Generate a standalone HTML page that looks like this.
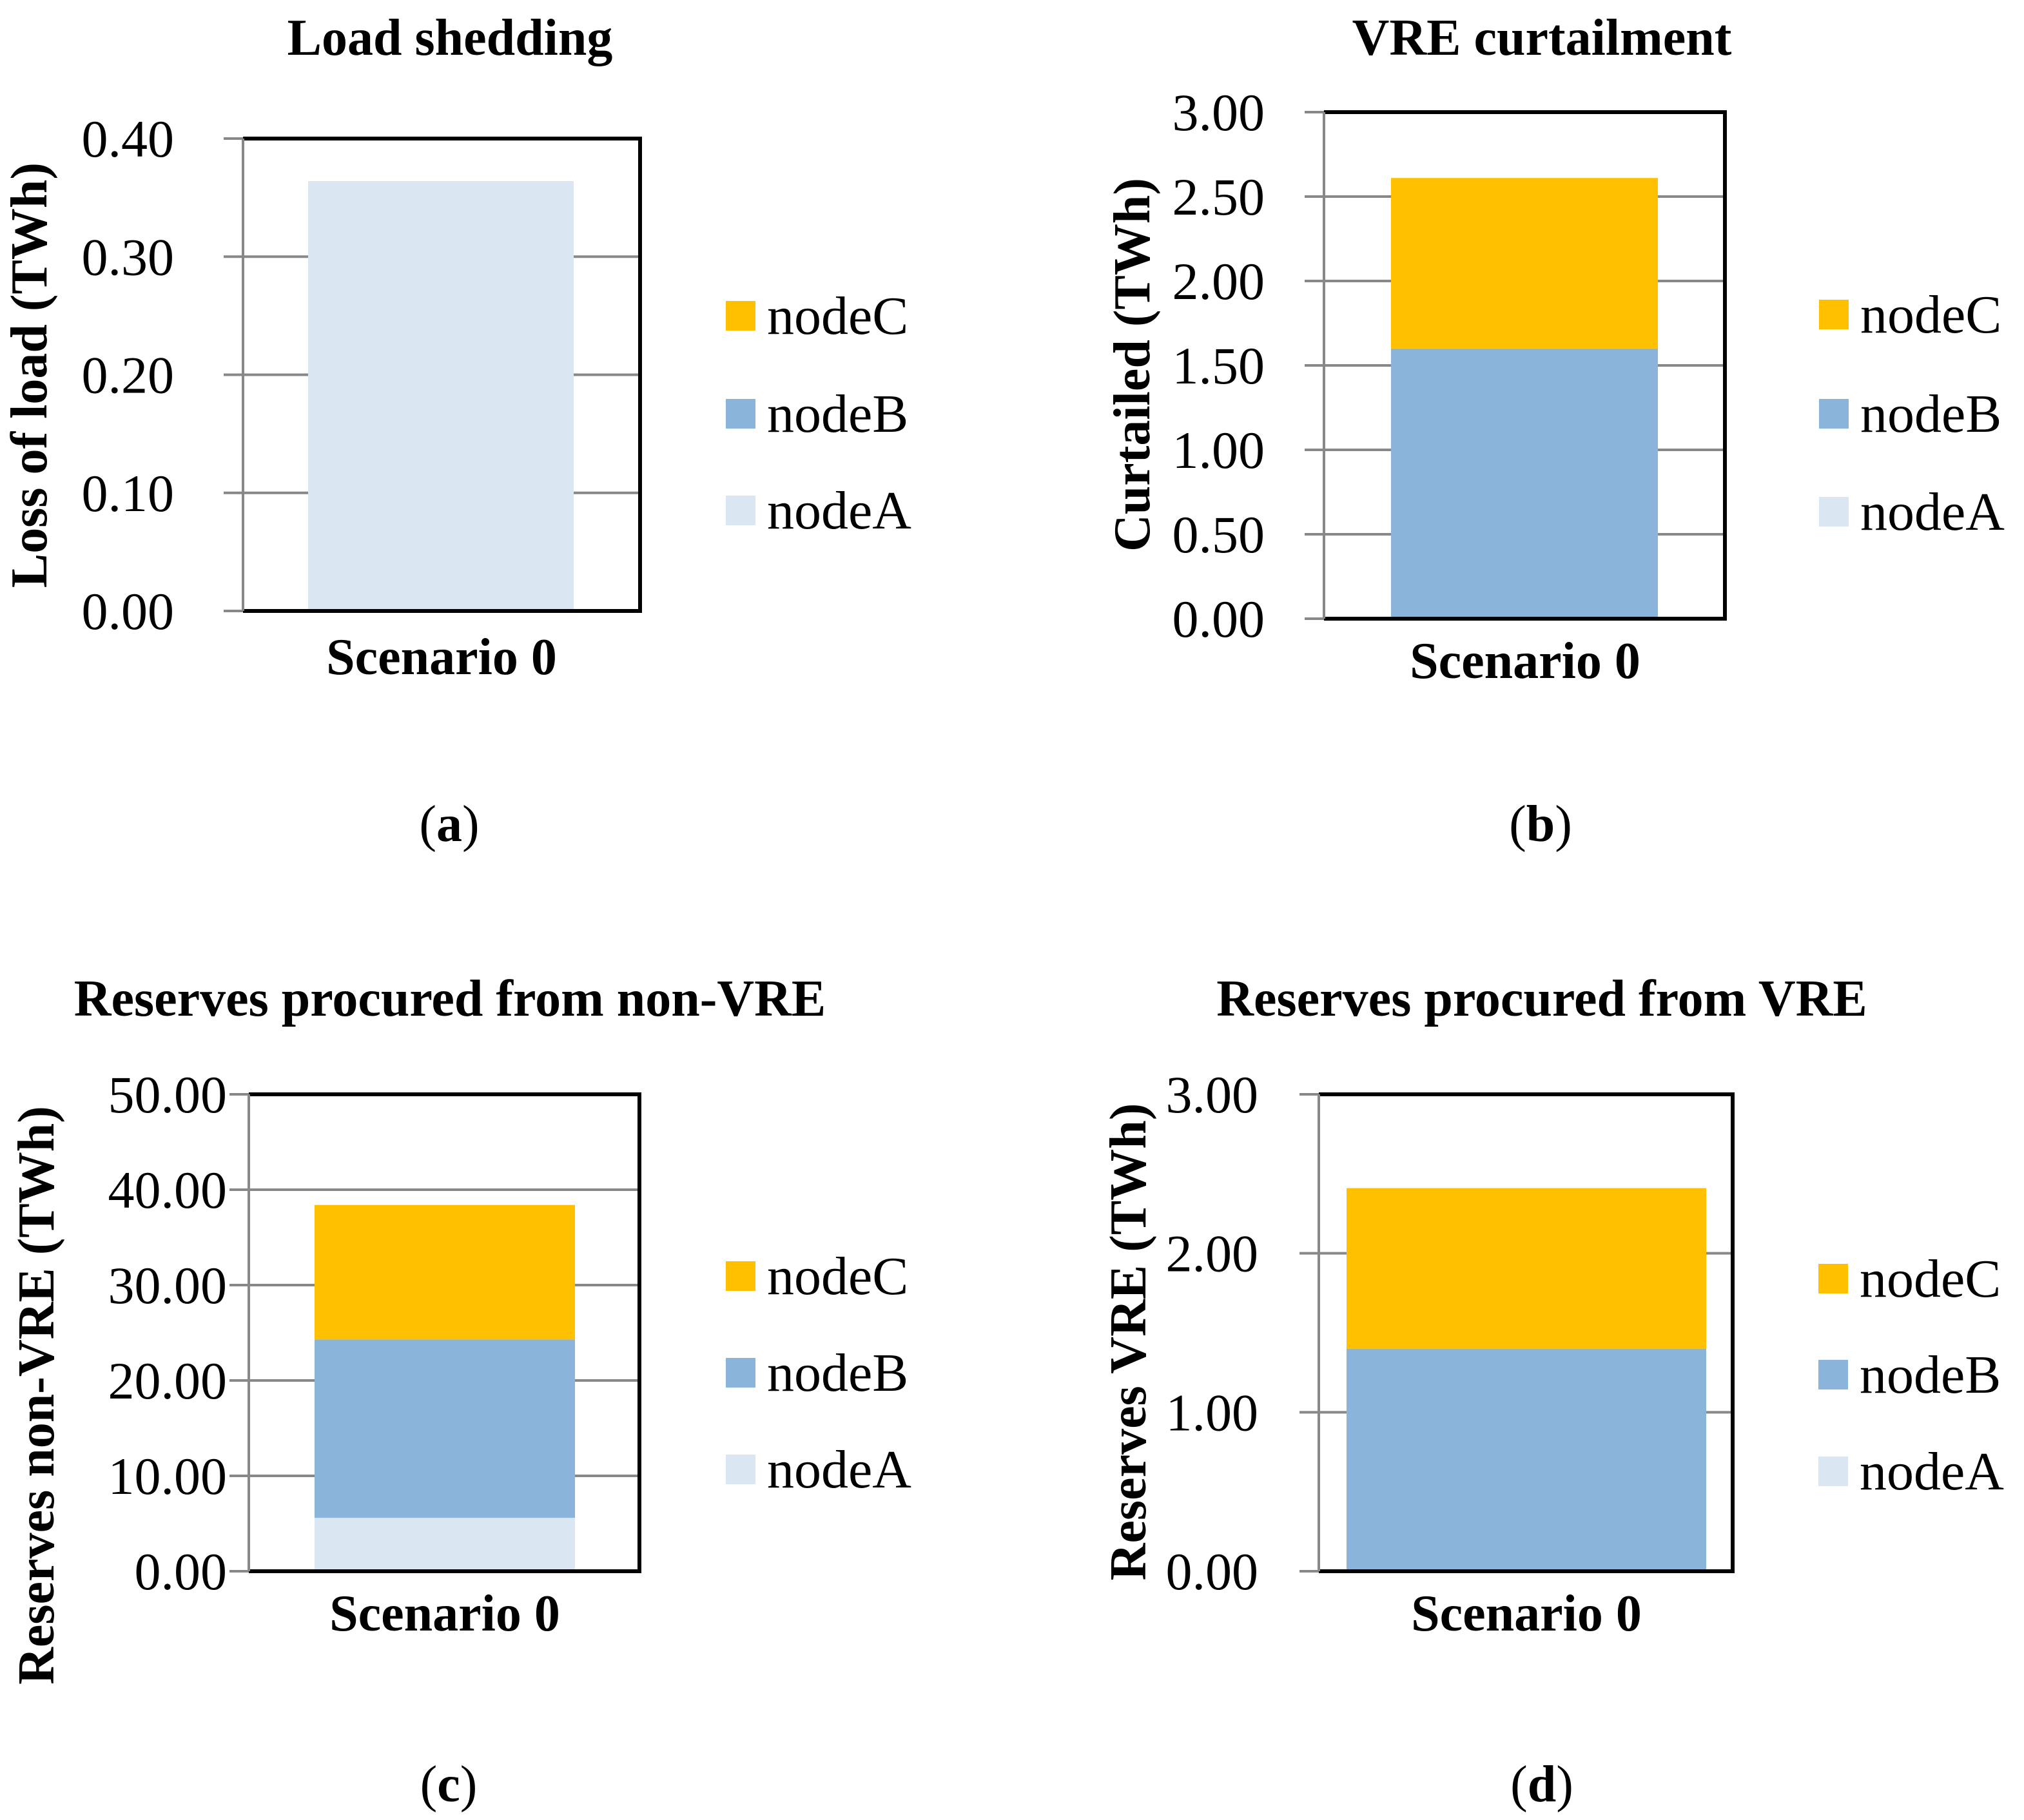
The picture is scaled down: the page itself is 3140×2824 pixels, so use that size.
<!DOCTYPE html>
<html><head><meta charset="utf-8"><style>
html,body{margin:0;padding:0;background:#fff;}
svg{display:block;}
text{font-family:"Liberation Serif",serif;fill:#000;}
</style></head><body>
<svg id="fig" width="3140" height="2824" viewBox="0 0 3140 2824" xmlns="http://www.w3.org/2000/svg"></svg>
<script>
const seriesNames = ["nodeA","nodeB","nodeC"];
const seriesColors = ["#DAE7F2","#8AB4D9","#FFC000"];
const categories = ["Scenario 0"];
const loadValues = [0.364, 0, 0];
const curtailValues = [0, 1.60, 1.01];
const nonVreValues = [5.6, 18.7, 14.1];
const vreValues = [0, 1.40, 1.01];
const loadTicks = [0,0.1,0.2,0.3,0.4];
const curtailTicks = [0,0.5,1,1.5,2,2.5,3];
const nonVreTicks = [0,10,20,30,40,50];
const vreTicks = [0,1,2,3];

const NS="http://www.w3.org/2000/svg";
const svg=document.getElementById('fig');
function mk(tag,attrs,parent){const e=document.createElementNS(NS,tag);for(const k in attrs)e.setAttribute(k,attrs[k]);(parent||svg).appendChild(e);return e;}

function panel(p){
  const g=mk('g',{});
  
  
  const max=p.ticks[p.ticks.length-1];
  const y=v=>p.y1-(v/max)*(p.y1-p.y0);
  p.ticks.forEach((t,i)=>{
    const l=mk('line',{x1:p.x0-30,x2:p.x1,y1:y(t),y2:y(t),stroke:'#888',"stroke-width":4},g);
    
    
    const tx=mk('text',{x:p.tickX,y:y(t)+28,"font-size":82,"text-anchor":"end"},g);
    tx.textContent=p.labels[i];
    
    
  });
  let acc=0;
  p.values.forEach((v,i)=>{
    if(v>0){
      const r=mk('rect',{x:p.bx0,width:p.bx1-p.bx0,y:y(acc+v),height:y(acc)-y(acc+v),fill:seriesColors[i]},g);
      
      
    }
    acc+=v;
  });
  const fr=mk('path',{d:`M${p.x0} ${p.y0} H${p.x1} V${p.y1} H${p.x0}`,fill:'none',stroke:'#000',"stroke-width":6},g);
  
  
  const ax=mk('line',{x1:p.x0,x2:p.x0,y1:p.y0,y2:p.y1,stroke:'#888',"stroke-width":4},g);
  
  
  const t=mk('text',{x:p.titleX,y:p.titleY,"font-size":80,"font-weight":"bold","text-anchor":"middle"},g);
  t.textContent=p.title;
  
  
  const yt=mk('text',{x:0,y:0,"font-size":80,"font-weight":"bold","text-anchor":"middle",transform:`translate(${p.ytX+27},${p.ytY}) rotate(-90)`},g);
  yt.textContent=p.ytitle;
  
  
  const xl=mk('text',{x:p.catX,y:p.catY,"font-size":80,"font-weight":"bold","text-anchor":"middle"},g);
  xl.textContent=categories[0];
  
  
  const cap=mk('text',{x:p.capX,y:p.capY,"font-size":80,"text-anchor":"middle"},g);
  cap.innerHTML='(<tspan font-weight="bold">'+p.cap+'</tspan>)';
  
  
  [2,1,0].forEach((si,k)=>{
    const cy=p.legY[k];
    const r=mk('rect',{x:p.legX,y:cy-23,width:46,height:46,fill:seriesColors[si]},g);
    
    
    const lt=mk('text',{x:p.legX+64,y:cy+28,"font-size":84},g);
    lt.textContent=seriesNames[si];
    
    
  });
}

panel({id:'chart-load-shedding',title:'Load shedding',ytitle:'Loss of load (TWh)',cap:'a',values:loadValues,ticks:loadTicks,labels:['0.00','0.10','0.20','0.30','0.40'],
  x0:377,x1:993,y0:215,y1:948,bx0:478,bx1:890,tickX:270,titleX:698,titleY:85,ytX:45,ytY:582,catX:685,catY:1046,capX:697,capY:1305,legX:1126,legY:[490,642,792]});
panel({id:'chart-vre-curtailment',title:'VRE curtailment',ytitle:'Curtailed (TWh)',cap:'b',values:curtailValues,ticks:curtailTicks,labels:['0.00','0.50','1.00','1.50','2.00','2.50','3.00'],
  x0:2054,x1:2676,y0:174,y1:960,bx0:2158,bx1:2572,tickX:1962,titleX:2392,titleY:85,ytX:1756,ytY:566,catX:2366,catY:1052,capX:2390,capY:1305,legX:2822,legY:[488,642,794]});
panel({id:'chart-reserves-non-vre',title:'Reserves procured from non-VRE',ytitle:'Reserves non-VRE (TWh)',cap:'c',values:nonVreValues,ticks:nonVreTicks,labels:['0.00','10.00','20.00','30.00','40.00','50.00'],
  x0:386,x1:992,y0:1698,y1:2438,bx0:488,bx1:892,tickX:352,titleX:698,titleY:1576,ytX:56,ytY:2165,catX:690,catY:2530,capX:696,capY:2795,legX:1126,legY:[1980,2130,2280]});
panel({id:'chart-reserves-vre',title:'Reserves procured from VRE',ytitle:'Reserves VRE (TWh)',cap:'d',values:vreValues,ticks:vreTicks,labels:['0.00','1.00','2.00','3.00'],
  x0:2046,x1:2688,y0:1698,y1:2438,bx0:2089,bx1:2647,tickX:1952,titleX:2392,titleY:1576,ytX:1750,ytY:2082,catX:2368,catY:2530,capX:2392,capY:2795,legX:2821,legY:[1984,2133,2283]});
</script>
</body></html>
